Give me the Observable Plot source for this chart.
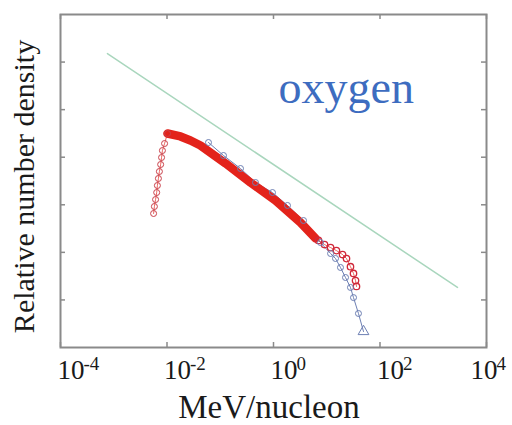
<!DOCTYPE html>
<html>
<head>
<meta charset="utf-8">
<script src="https://cdn.jsdelivr.net/npm/d3@7"></script>
<script src="https://cdn.jsdelivr.net/npm/@observablehq/plot@0.6"></script>
<style>
  html, body { margin: 0; padding: 0; background: #fff; }
  #chart svg { display: block; }
</style>
</head>
<body>
<div id="chart"></div>
<script>
// ---- data ----
const xTicks = [1e-4, 1e-2, 1e0, 1e2, 1e4];
const xTickBase = ["10", "10", "10", "10", "10"];
const xTickExp = ["-4", "-2", "0", "2", "4"];
const yTicks = [1e1, 1e2, 1e3, 1e4, 1e5, 1e6];

// red series: rising part (open circles)
const redRiseX = [0.0056, 0.0058, 0.0061, 0.0064, 0.0066, 0.0069, 0.0072, 0.0076, 0.0079, 0.0082, 0.0090, 0.0102];
const redRiseY = [656, 920, 1290, 1810, 2540, 3570, 5010, 7030, 9860, 13800, 19400, 31500];
// red series: dense part (overlapping circles form a thick band)
const redDenseX = [0.0102, 0.0179, 0.0276, 0.0425, 0.126, 0.370, 1.09, 3.21, 6.15];
const redDenseY = [31500, 27300, 22500, 17600, 7380, 2940, 1230, 424, 196];
// red series: tail
const redTailX = [7.0, 9.08, 11.8, 15.2, 19.8, 23.5, 27.9, 31.8, 34.7, 36.2];
const redTailY = [178, 146, 126, 109, 90, 74, 50, 36, 25.6, 19.2];

// blue series
const blueX = [0.0601, 0.115, 0.240, 0.459, 0.957, 1.83, 3.66, 7.63, 11.8, 14.6, 18.1, 22.5, 27.9, 31.8, 39.4];
const blueY = [20400, 10870, 5790, 2940, 1810, 967, 467, 161, 94.6, 74.3, 48.1, 29.6, 18.3, 11.2, 5.19];
const blueEndX = [49.0];
const blueEndY = [2.17];

// green reference power law
const greenX = [0.00076, 2850];
const greenY = [1.51e6, 18.3];

const labelText = ["oxygen"];
const labelX = [1.24];
const labelY = [2.88e5];

// ---- build tables ----
const zip = (xs, ys) => xs.map((x, i) => ({x, y: ys[i]}));
const redRise = zip(redRiseX, redRiseY);
const redDense = zip(redDenseX, redDenseY);
const redTail = zip(redTailX, redTailY);
const redAll = [...redRise, ...redDense.slice(1), ...redTail];
const blue = zip(blueX, blueY);
const blueEnd = zip(blueEndX, blueEndY);
const blueLine = [...blue, ...blueEnd];
const green = zip(greenX, greenY);
const ticksX = xTicks.map((v, i) => ({v, base: xTickBase[i], exp: xTickExp[i]}));
const ticksInner = ticksX.slice(0, -1);
const ticksLast = ticksX.slice(-1);
const label = labelText.map((t, i) => ({t, x: labelX[i], y: labelY[i]}));

const W = 512, H = 425;
const mL = 60, mR = 26, mT = 14, mB = 78;
const innerW = W - mL - mR, innerH = H - mT - mB;
const tickLen = 5;
const serif = "Liberation Serif, Times New Roman, serif";
const red = "#e3231b";
const blueC = "#6d7fb3";
const ink = "#1a1a1a";
const lastShift = -13; // keep the rightmost tick label inside the picture

const chart = Plot.plot({
  width: W,
  height: H,
  marginLeft: mL,
  marginRight: mR,
  marginTop: mT,
  marginBottom: mB,
  style: {background: "#fff", fontFamily: serif},
  x: {type: "log", domain: [1e-4, 1e4], axis: null},
  y: {type: "log", domain: [1, 1e7], axis: null},
  marks: [
    // green power law
    Plot.line(green, {x: "x", y: "y", stroke: "#a9d6bd", strokeWidth: 1.5}),
    // blue connecting line
    Plot.line(blueLine, {x: "x", y: "y", stroke: blueC, strokeWidth: 1}),
    // red series
    Plot.line(redAll, {x: "x", y: "y", stroke: red, strokeWidth: 1, strokeOpacity: 0.7}),
    Plot.line(redDense, {x: "x", y: "y", stroke: red, strokeWidth: 8.5, strokeLinecap: "round", strokeLinejoin: "round"}),
    Plot.dot(redRise, {x: "x", y: "y", r: 3, stroke: "#c9404a", strokeWidth: 1, fill: "none"}),
    Plot.dot(redTail, {x: "x", y: "y", r: 3.2, stroke: "#d0283a", strokeWidth: 1.3, fill: "none"}),
    // blue markers
    Plot.dot(blue, {x: "x", y: "y", r: 3, stroke: blueC, strokeWidth: 1, fill: "none"}),
    Plot.dot(blueEnd, {x: "x", y: "y", r: 4, symbol: "triangle", stroke: blueC, strokeWidth: 1, fill: "none"}),
    // frame and inward ticks on all four sides
    Plot.frame({stroke: "#8a8a8a", strokeWidth: 2}),
    Plot.ruleX(xTicks, {x: d => d, insetTop: innerH - tickLen, stroke: "#8a8a8a", strokeWidth: 1.5}),
    Plot.ruleX(xTicks, {x: d => d, insetBottom: innerH - tickLen, stroke: "#8a8a8a", strokeWidth: 1.5}),
    Plot.ruleY(yTicks, {y: d => d, insetRight: innerW - tickLen, stroke: "#8a8a8a", strokeWidth: 1.5}),
    Plot.ruleY(yTicks, {y: d => d, insetLeft: innerW - tickLen, stroke: "#8a8a8a", strokeWidth: 1.5}),
    // x tick labels: base and superscript exponent
    Plot.text(ticksInner, {x: "v", text: "base", frameAnchor: "bottom", lineAnchor: "middle", textAnchor: "start", dx: -3, dy: 22.4, fontSize: 27, fill: ink, fontFamily: serif}),
    Plot.text(ticksInner, {x: "v", text: "exp", frameAnchor: "bottom", lineAnchor: "middle", textAnchor: "start", dx: 23, dy: 16.9, fontSize: 19, fill: ink, fontFamily: serif}),
    Plot.text(ticksLast, {x: "v", text: "base", frameAnchor: "bottom", lineAnchor: "middle", textAnchor: "start", dx: -3 + lastShift, dy: 22.4, fontSize: 27, fill: ink, fontFamily: serif}),
    Plot.text(ticksLast, {x: "v", text: "exp", frameAnchor: "bottom", lineAnchor: "middle", textAnchor: "start", dx: 23 + lastShift, dy: 16.9, fontSize: 19, fill: ink, fontFamily: serif}),
    // axis titles
    Plot.text(["MeV/nucleon"], {text: d => d, frameAnchor: "bottom", lineAnchor: "middle", textAnchor: "middle", dx: -4.5, dy: 59.5, fontSize: 33, fill: ink, fontFamily: serif}),
    Plot.text(["Relative number density"], {text: d => d, frameAnchor: "left", lineAnchor: "middle", textAnchor: "middle", rotate: -90, dx: -36.5, dy: 5.5, fontSize: 30, fill: ink, fontFamily: serif}),
    // series label
    Plot.text(label, {x: "x", y: "y", text: "t", textAnchor: "start", lineAnchor: "middle", fontSize: 46, fill: "#3d6cc0", fontFamily: serif})
  ]
});
document.getElementById("chart").appendChild(chart);
</script>
</body>
</html>
